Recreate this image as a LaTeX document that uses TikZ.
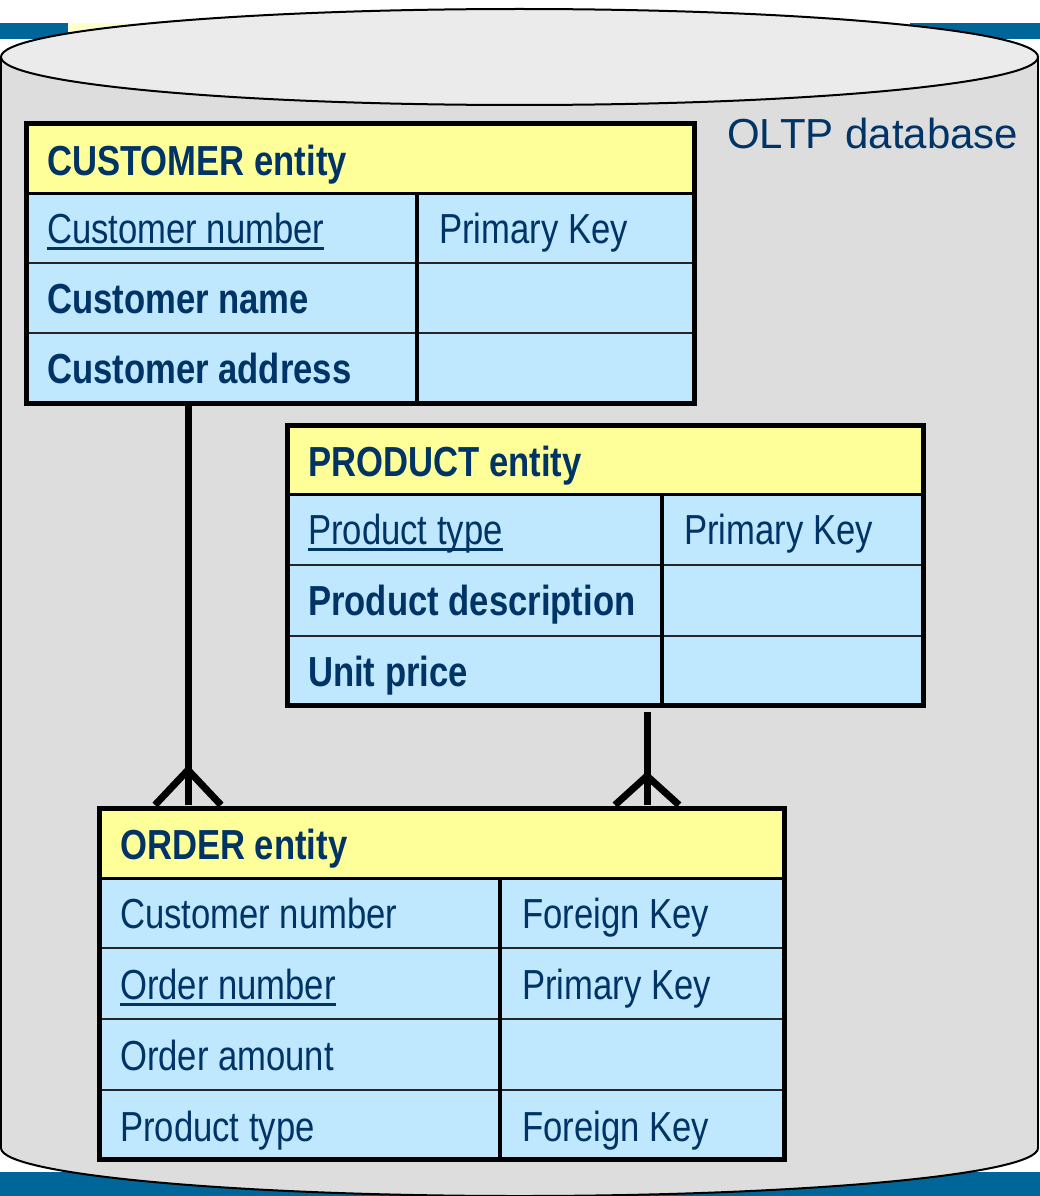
\documentclass[tikz,border=0pt]{standalone}
\usepackage{fontspec}
\setmainfont{Liberation Sans}
\definecolor{navy}{HTML}{003366}
\definecolor{band}{HTML}{006699}
\definecolor{paleyellow}{HTML}{FFFFCC}
\definecolor{headfill}{HTML}{FFFF99}
\definecolor{rowfill}{RGB}{191,231,254}
\definecolor{cylbody}{RGB}{221,221,221}
\definecolor{cyltop}{RGB}{235,235,235}
% underline for key attributes
\newcommand\keyul[1]{\setbox0=\hbox{#1}\rlap{\vrule width\wd0 height -4pt depth 6.5pt}\box0}
\tikzset{
  celltext/.style={anchor=base west, inner sep=0pt, text=navy,
    font=\fontsize{42}{48}\selectfont, xscale=0.825},
  boldtext/.style={celltext, font=\fontsize{42}{48}\selectfont\bfseries},
  frame/.style={draw=black, line width=5pt, inner sep=0pt, outer sep=0pt, anchor=north west},
  rowline/.style={draw=black!85, line width=2.5pt},
  divline/.style={draw=black, line width=4pt},
  link/.style={draw=black, line width=7pt},
  cylline/.style={draw=black, line width=2pt},
}
\begin{document}
\begin{tikzpicture}[x=1pt,y=-1pt]
\useasboundingbox (0,0) rectangle (1040,1196);
\fill[white] (0,0) rectangle (1040,1196);

% background bands
\fill[band] (0,23) rectangle (68,39);
\fill[paleyellow] (68,23) rectangle (910,39);
\fill[band] (910,23) rectangle (1040,39);
\fill[band] (0,1172) rectangle (1040,1196);

% database cylinder
\fill[cylbody] (1,57) rectangle (1038,1148);
\fill[cylbody] (519.5,1148) ellipse [x radius=518.5, y radius=48];
\begin{scope}
  \clip (-5,1148) rectangle (1045,1205);
  \draw[cylline] (519.5,1148) ellipse [x radius=518.5, y radius=48];
\end{scope}
\draw[cylline] (1,57) -- (1,1148);
\draw[cylline] (1038,57) -- (1038,1148);
\fill[cyltop] (519.5,57) ellipse [x radius=518.5, y radius=48];
\draw[cylline] (519.5,57) ellipse [x radius=518.5, y radius=48];

\node[anchor=base west, inner sep=0pt, text=navy, font=\fontsize{42}{48}\selectfont]
  (dbname) at (727,148) {OLTP database};

% ---------- CUSTOMER entity ----------
\fill[headfill] (26,124) rectangle (694,193);
\fill[rowfill] (26,193) rectangle (694,403);
\draw[rowline] (26,263) -- (694,263);
\draw[rowline] (26,333) -- (694,333);
\draw[draw=black, line width=3pt] (26,193) -- (694,193);
\draw[divline] (417,193) -- (417,403);
\node[frame, minimum width=668pt, minimum height=279pt] (customer) at (26,124) {};
\node[boldtext] (cust-h) at (47,175) {CUSTOMER entity};
\node[celltext] (cust-1a) at (47,243) {\keyul{Customer number}};
\node[celltext] (cust-1b) at (439,243) {Primary Key};
\node[boldtext] (cust-2a) at (47,313) {Customer name};
\node[boldtext] (cust-3a) at (47,383) {Customer address};

% ---------- PRODUCT entity ----------
\fill[headfill] (287,425) rectangle (923,494);
\fill[rowfill] (287,494) rectangle (923,705);
\draw[rowline] (287,565) -- (923,565);
\draw[rowline] (287,636) -- (923,636);
\draw[draw=black, line width=3pt] (287,494) -- (923,494);
\draw[divline] (662,494) -- (662,705);
\node[frame, minimum width=636pt, minimum height=280pt] (product) at (287,425) {};
\node[boldtext] (prod-h) at (308,476) {PRODUCT entity};
\node[celltext] (prod-1a) at (308,544) {\keyul{Product type}};
\node[celltext] (prod-1b) at (684,544) {Primary Key};
\node[boldtext] (prod-2a) at (308,615) {Product description};
\node[boldtext] (prod-3a) at (308,686) {Unit price};

% ---------- ORDER entity ----------
\fill[headfill] (99,808) rectangle (784,878);
\fill[rowfill] (99,878) rectangle (784,1159);
\draw[rowline] (99,948) -- (784,948);
\draw[rowline] (99,1019) -- (784,1019);
\draw[rowline] (99,1090) -- (784,1090);
\draw[draw=black, line width=3pt] (99,878) -- (784,878);
\draw[divline] (500,878) -- (500,1159);
\node[frame, minimum width=685pt, minimum height=351pt] (order) at (99,808) {};
\node[boldtext] (ord-h) at (120,859) {ORDER entity};
\node[celltext] (ord-1a) at (120,928) {Customer number};
\node[celltext] (ord-1b) at (522,928) {Foreign Key};
\node[celltext] (ord-2a) at (120,999) {\keyul{Order number}};
\node[celltext] (ord-2b) at (522,999) {Primary Key};
\node[celltext] (ord-3a) at (120,1070) {Order amount};
\node[celltext] (ord-4a) at (120,1141) {Product type};
\node[celltext] (ord-4b) at (522,1141) {Foreign Key};

% ---------- one-to-many relationships ----------
\coordinate (cfoot) at (188,805);
\coordinate (pfoot) at (647,805);
\draw[link] (customer.south -| cfoot) -- (cfoot);
\draw[link] (cfoot) ++(-33,0) -- ++(33,-35) -- ++(33,35);
\draw[link, shorten <=7pt] (product.south -| pfoot) -- (pfoot);
\draw[link] (pfoot) ++(-32,0) -- ++(32,-29) -- ++(32,29);
\end{tikzpicture}
\end{document}
